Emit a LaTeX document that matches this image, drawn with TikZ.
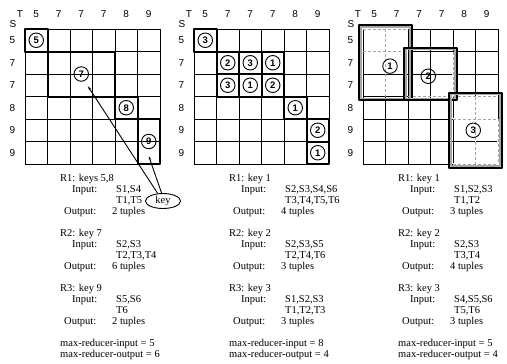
\documentclass[tikz,border=0pt]{standalone}
\usepackage{fontspec}
\setmainfont{Liberation Serif}
\setsansfont{Liberation Sans}
\usetikzlibrary{arrows.meta,shapes.geometric}
\tikzset{
	lbl/.style={font=\sffamily\fontsize{10}{12}\selectfont, inner sep=0pt},
	num/.style={circle, draw, line width=0.9pt, inner sep=0pt, minimum size=14.5pt, font=\sffamily\bfseries\fontsize{9.5}{10}\selectfont},
	cellbox/.style={line width=2pt},
	outerbox/.style={line width=1.7pt},
	innerbox/.style={line width=1.5pt, gray!70},
	dashline/.style={gray!70, line width=0.9pt, dash pattern=on 3pt off 2pt, preaction={draw=white, solid, line width=1.3pt}},
	txt/.style={font=\fontsize{10.5}{11}\selectfont, inner sep=0pt, anchor=base west},
}
\newcommand{\panelgrid}[1]{%
	\foreach \i in {0,...,6} {
		\draw[line width=0.6pt] (\i,0) -- (\i,6);
		\draw[line width=0.6pt] (0,\i) -- (6,\i);
	}
	\node[lbl] (#1T) at (-0.22,-0.67) {T};
	\node[lbl] (#1S) at (-0.53,-0.22) {S};
	\foreach \lab [count=\i from 0] in {5,7,7,7,8,9}
		\node[lbl] (#1t\i) at (\i+0.5,-0.67) {\lab};
	\foreach \lab [count=\i from 0] in {5,7,7,8,9,9}
		\node[lbl] (#1s\i) at (-0.56,\i+0.5) {\lab};
	}
\newcommand{\reducer}[7]{%
	\node[txt] (#1title) at (#2,#3+4) {#4};
	\node[txt] (#1in) at (#2+12,#3+15) {Input:};
	\node[txt] (#1s) at (#2+56,#3+15) {#5};
	\node[txt] (#1t) at (#2+56,#3+26) {#6};
	\node[txt] (#1out) at (#2+4,#3+37) {Output:};
	\node[txt] (#1n) at (#2+52,#3+37) {#7};}
\begin{document}
\begin{tikzpicture}[x=1pt, y=-1pt, line join=round, >={Stealth[length=4pt,width=2.6pt]}]
	\useasboundingbox (0,0) rectangle (507,364);
	% panel 1
	\begin{scope}[shift={(25,29)}, x=22.5pt, y=-22.5pt]
		\panelgrid{a}
		\draw[cellbox] (0,0) rectangle (1,1);
		\draw[cellbox] (1,1) rectangle (4,3);
		\draw[cellbox] (4,3) rectangle (5,4);
		\draw[cellbox] (5,4) rectangle (6,6);
		\node[num] (a5) at (0.5,0.5) {5};
		\node[num] (a7) at (2.5,2) {7};
		\node[num] (a8) at (4.5,3.5) {8};
		\node[num] (a9) at (5.5,5) {9};
		\coordinate (a7end) at (2.8,2.55);
		\coordinate (a9end) at (5.5,5.65);
	\end{scope}
	\node[draw, ellipse, line width=0.9pt, minimum width=35pt, minimum height=15pt, inner sep=0pt, font=\fontsize{10.5}{11}\selectfont] (key) at (163,201) {key};
	\draw[->, line width=0.9pt] (key.125) -- (a7end);
	\draw[->, line width=0.9pt] (key.100) -- (a9end);
	% panel 2
	\begin{scope}[shift={(194,29)}, x=22.5pt, y=-22.5pt]
		\panelgrid{b}
		\foreach \c/\r/\n in {0/0/3,1/1/2,2/1/3,3/1/1,1/2/3,2/2/1,3/2/2,4/3/1,5/4/2,5/5/1} {
			\draw[cellbox] (\c,\r) rectangle +(1,1);
			\node[num] (b\c\r) at (\c+0.5,\r+0.5) {\n};
		}
	\end{scope}
	% panel 3
	\begin{scope}[shift={(363,29)}, x=22.5pt, y=-22.5pt]
		\panelgrid{c}
		\draw[dashline] (0,0) -- (2,0) (0,1) -- (2,1) (1,0) -- (1,3);
		\draw[dashline] (4,1) -- (4,3) (2,3) -- (4,3);
		\draw[dashline] (4,3) -- (6,3) (4,4) -- (6,4) (5,3) -- (5,6) (6,4) -- (6,6) (4,6) -- (6,6);
		\draw[innerbox] (-0.08,-0.08) rectangle (2.08,3.08);
		\draw[outerbox] (-0.17,-0.17) rectangle (2.17,3.17);
		\draw[innerbox] (1.92,0.92) rectangle (4.08,3.08);
		\draw[outerbox] (1.83,0.83) rectangle (4.17,3.17);
		\draw[innerbox] (3.92,2.92) rectangle (6.08,6.08);
		\draw[outerbox] (3.83,2.83) rectangle (6.17,6.17);
		\node[num] (c1) at (1.2,1.65) {1};
		\node[num] (c2) at (2.9,2.1) {2};
		\node[num] (c3) at (4.9,4.5) {3};
	\end{scope}
	% reducer texts
	\reducer{ar1}{60}{177}{R1: keys 5,8}{S1,S4}{T1,T5}{2 tuples}
	\reducer{ar2}{60}{232}{R2: key 7}{S2,S3}{T2,T3,T4}{6 tuples}
	\reducer{ar3}{60}{287}{R3: key 9}{S5,S6}{T6}{2 tuples}
	\node[txt] (amaxin) at (60,346) {max-reducer-input = 5};
	\node[txt] (amaxout) at (60,357) {max-reducer-output = 6};
	\reducer{br1}{229}{177}{R1: key 1}{S2,S3,S4,S6}{T3,T4,T5,T6}{4 tuples}
	\reducer{br2}{229}{232}{R2: key 2}{S2,S3,S5}{T2,T4,T6}{3 tuples}
	\reducer{br3}{229}{287}{R3: key 3}{S1,S2,S3}{T1,T2,T3}{3 tuples}
	\node[txt] (bmaxin) at (229,346) {max-reducer-input = 8};
	\node[txt] (bmaxout) at (229,357) {max-reducer-output = 4};
	\reducer{cr1}{398}{177}{R1: key 1}{S1,S2,S3}{T1,T2}{3 tuples}
	\reducer{cr2}{398}{232}{R2: key 2}{S2,S3}{T3,T4}{4 tuples}
	\reducer{cr3}{398}{287}{R3: key 3}{S4,S5,S6}{T5,T6}{3 tuples}
	\node[txt] (cmaxin) at (398,346) {max-reducer-input = 5};
	\node[txt] (cmaxout) at (398,357) {max-reducer-output = 4};
\end{tikzpicture}
\end{document}
